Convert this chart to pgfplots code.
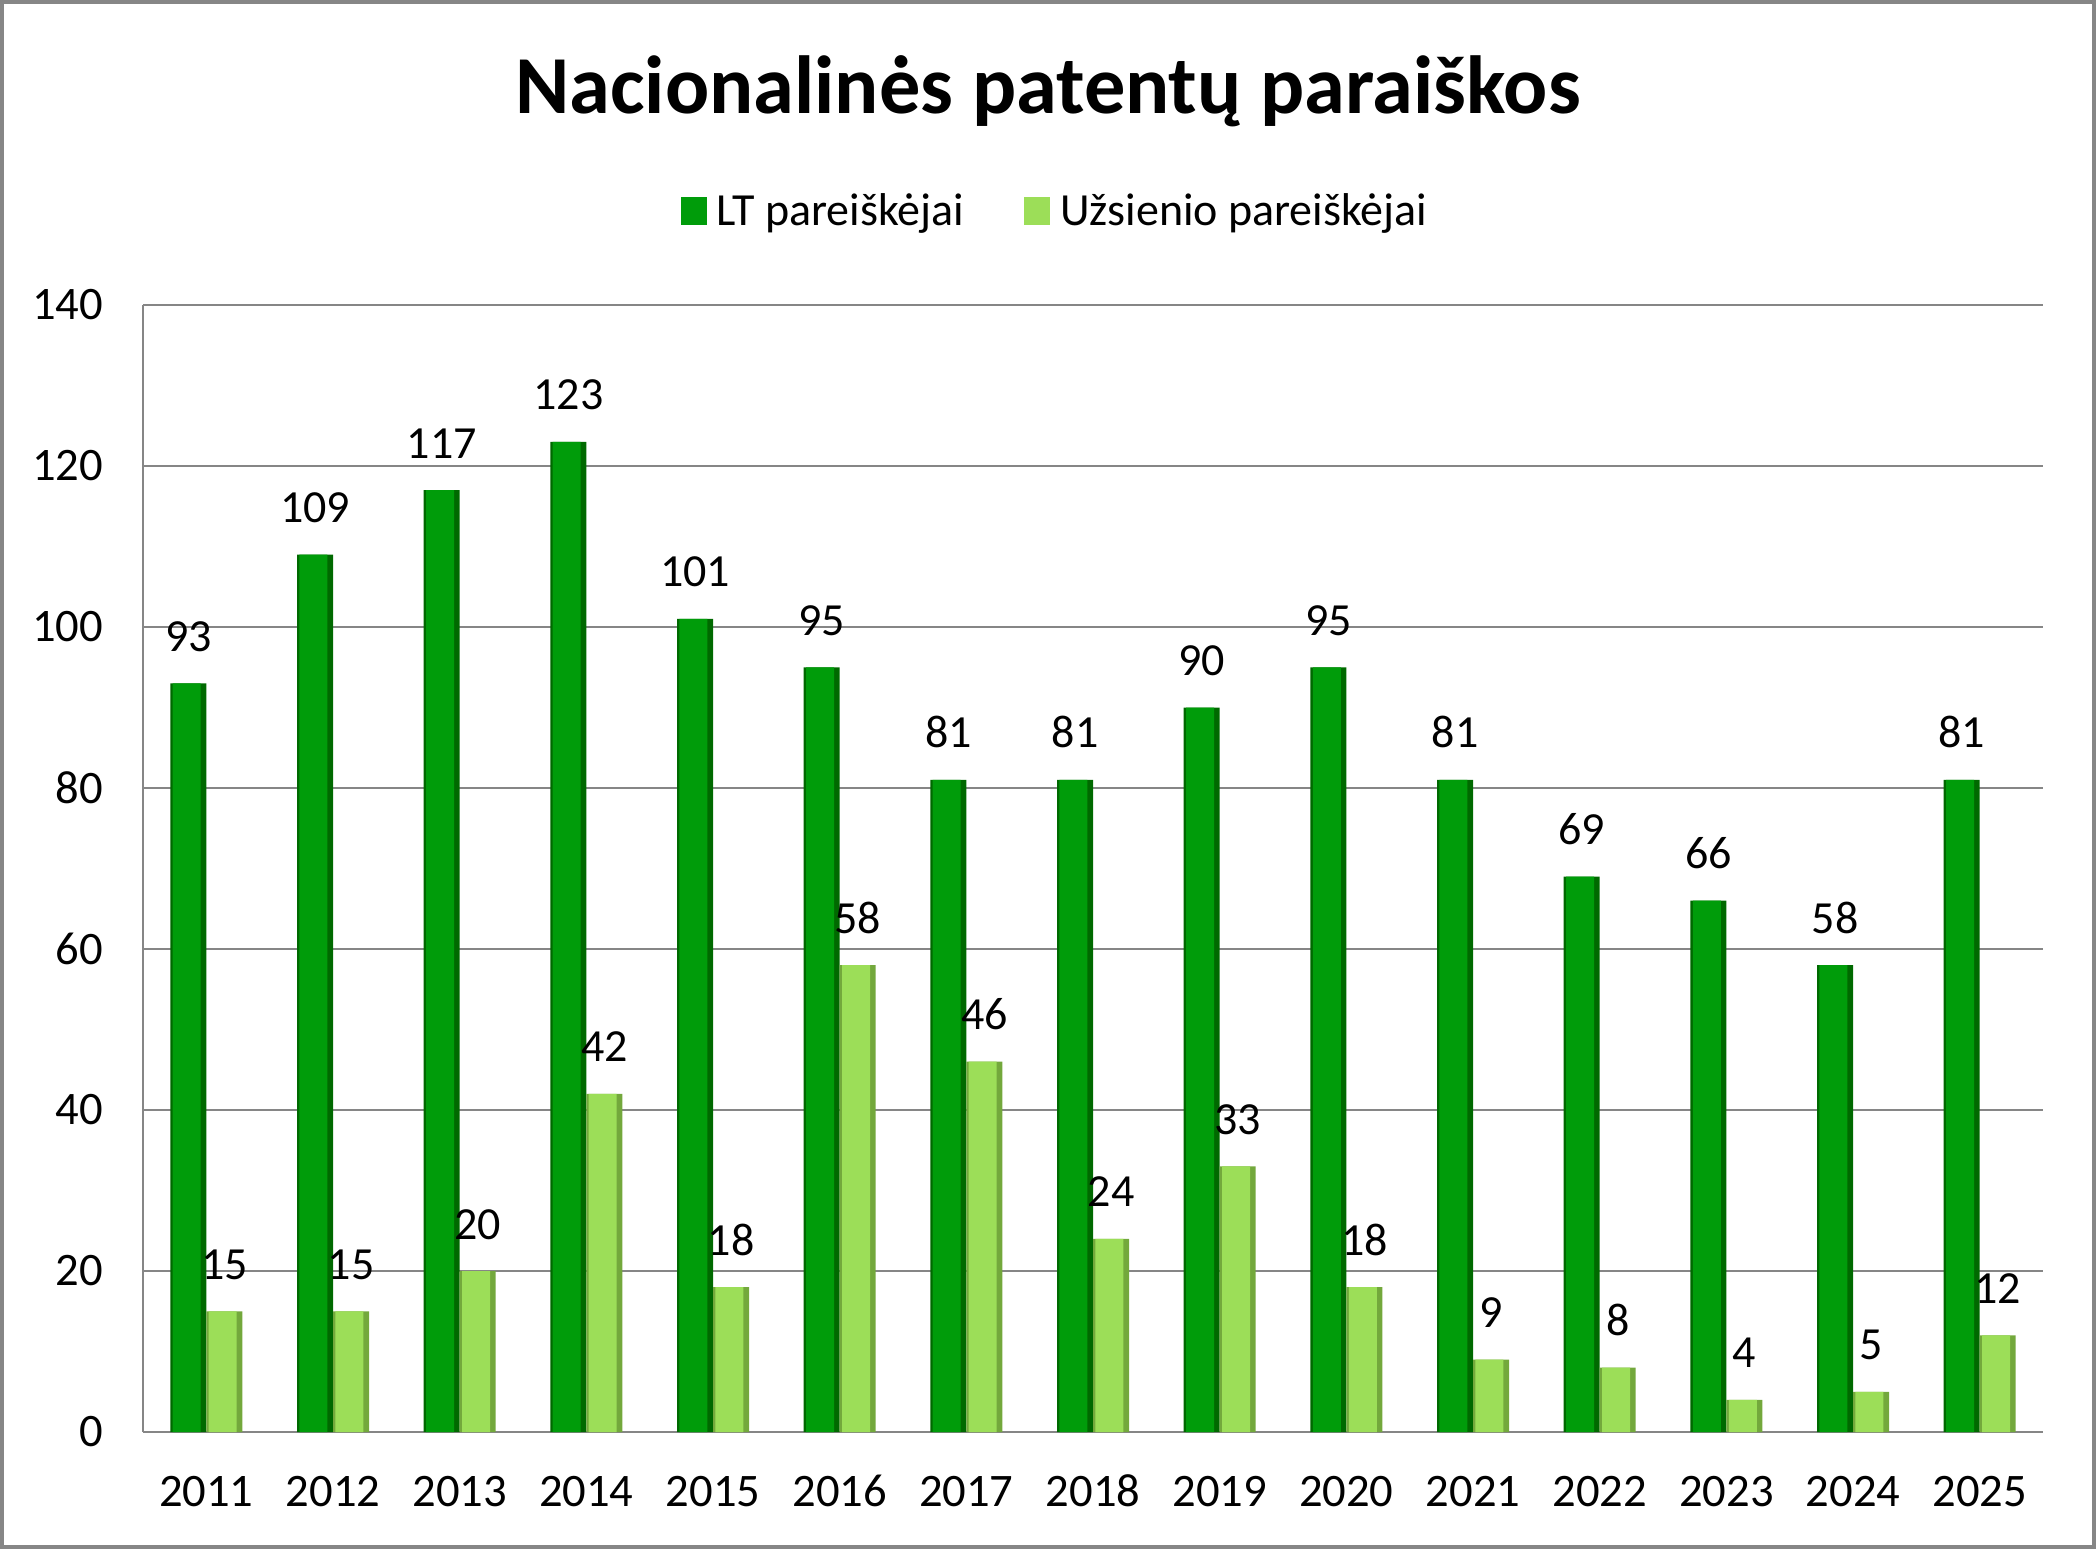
\documentclass[border=0pt]{standalone}
\usepackage{pgfplots}
\pgfplotsset{compat=1.18}
\usepackage{fontspec}
\setmainfont{Carlito}
\definecolor{ltmain}{RGB}{0,156,10}
\definecolor{ltedge}{RGB}{0,105,0}
\definecolor{uzmain}{RGB}{156,222,88}
\definecolor{uzedge}{RGB}{115,168,60}
\definecolor{gridgray}{RGB}{134,134,134}
\begin{document}
\begin{tikzpicture}
\path (0,0) rectangle (1048pt,774.5pt);
\draw[gridgray, line width=2pt] (1pt,1pt) rectangle (1047pt,773.5pt);
\begin{axis}[
  at={(71.5pt,58.5pt)}, anchor=south west,
  width=950pt, height=563.5pt, scale only axis,
  ymin=0, ymax=140, ytick={0,20,...,140},
  xmin=-0.5, xmax=14.5,
  xtick={0,...,14},
  xticklabels={2011,2012,2013,2014,2015,2016,2017,2018,2019,2020,2021,2022,2023,2024,2025},
  ymajorgrids, grid style={gridgray, line width=1.2pt},
  axis x line*=bottom, axis y line*=left,
  axis line style={gridgray, line width=1.4pt},
  major tick length=0pt,
  tick label style={font=\fontsize{23.3}{26}\selectfont},
  /pgf/number format/assume math mode=true,
  yticklabel style={xshift=-16.5pt},
  xticklabel style={anchor=base, yshift=-37pt},
  ybar, bar width=18pt,
  every node near coord/.append style={font=\fontsize{23}{26}\selectfont, anchor=base, yshift=16pt, black},
  legend columns=2,
  legend style={at={(0.4805,1.083)}, anchor=center, draw=none, font=\fontsize{23}{26}\selectfont,
    /tikz/every odd column/.append style={column sep=3pt},
    /tikz/every even column/.append style={column sep=28pt}},
  legend image code/.code={\fill[#1] (0pt,-7pt) rectangle (13pt,7pt);},
  clip=false,
]
\addlegendimage{ltmain, draw=none}
\addlegendentry{LT pareiškėjai}
\addlegendimage{uzmain, draw=none}
\addlegendentry{Užsienio pareiškėjai}
% LT applicants: base (edge colour) with value labels
\addplot[forget plot, fill=ltedge, draw=none, bar shift=-9pt, bar width=18pt, nodes near coords]
 coordinates {(0,93) (1,109) (2,117) (3,123) (4,101) (5,95) (6,81) (7,81) (8,90) (9,95) (10,81) (11,69) (12,66) (13,58) (14,81)};
\addplot[forget plot, fill=ltmain, draw=none, bar shift=-9.8pt, bar width=14pt]
 coordinates {(0,93) (1,109) (2,117) (3,123) (4,101) (5,95) (6,81) (7,81) (8,90) (9,95) (10,81) (11,69) (12,66) (13,58) (14,81)};
% Foreign applicants
\addplot[forget plot, fill=uzedge, draw=none, bar shift=9pt, bar width=18pt, nodes near coords]
 coordinates {(0,15) (1,15) (2,20) (3,42) (4,18) (5,58) (6,46) (7,24) (8,33) (9,18) (10,9) (11,8) (12,4) (13,5) (14,12)};
\addplot[forget plot, fill=uzmain, draw=none, bar shift=8.2pt, bar width=14pt]
 coordinates {(0,15) (1,15) (2,20) (3,42) (4,18) (5,58) (6,46) (7,24) (8,33) (9,18) (10,9) (11,8) (12,4) (13,5) (14,12)};
\end{axis}
\node[font=\bfseries\fontsize{41.2}{45}\selectfont] at (524pt,729pt) {Nacionalinės patentų paraiškos};
\end{tikzpicture}
\end{document}
